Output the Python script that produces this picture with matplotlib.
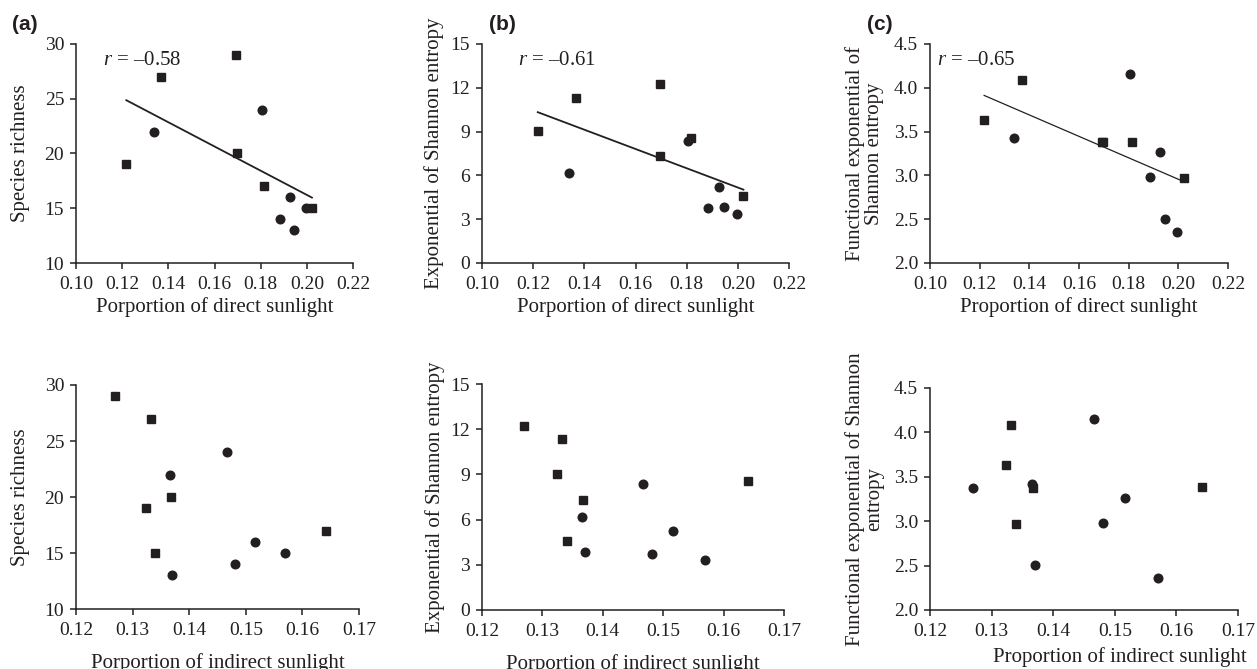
import matplotlib
matplotlib.use("Agg")
import matplotlib.pyplot as plt
import numpy as np

# twelve sites, first six plotted as squares, last six as circles
direct = [0.1694, 0.1369, 0.1218, 0.1697, 0.1815, 0.2022,
          0.1339, 0.1804, 0.1928, 0.1884, 0.1945, 0.1995]
indirect = [0.1269, 0.1332, 0.1324, 0.1367, 0.1641, 0.1340,
            0.1366, 0.1466, 0.1516, 0.1481, 0.1370, 0.1570]
richness = [29, 27, 19, 20, 17, 15, 22, 24, 16, 14, 13, 15]
exp_shannon = [12.24, 11.33, 9.01, 7.31, 8.54, 4.60,
               6.19, 8.37, 5.22, 3.74, 3.86, 3.34]
func_shannon = [3.376, 4.085, 3.628, 3.376, 3.385, 2.968,
                3.423, 4.156, 3.263, 2.977, 2.505, 2.357]
group = ['sq'] * 6 + ['ci'] * 6
# in the lower right panel the first site is drawn as a circle
group_func_indirect = ['ci'] + ['sq'] * 5 + ['ci'] * 6

r_values = ['–0.58', '–0.61', '–0.65']
panel_tags = ['(a)', '(b)', '(c)']

plt.rcParams['font.family'] = 'Liberation Serif'
plt.rcParams['mathtext.fontset'] = 'custom'
plt.rcParams['mathtext.rm'] = 'Liberation Serif'
plt.rcParams['mathtext.it'] = 'Liberation Serif:italic'

INK = '#231f20'
W, H = 1257, 669
fig = plt.figure(figsize=(W / 100, H / 100), dpi=100)


def px_axes(l, t, r, b):
    return fig.add_axes([l / W, 1 - b / H, (r - l) / W, (b - t) / H])


def style(ax, xticks, yticks, xfmt, yfmt):
    for s in ['top', 'right']:
        ax.spines[s].set_visible(False)
    for s in ['left', 'bottom']:
        ax.spines[s].set_linewidth(1.1)
        ax.spines[s].set_color(INK)
    ax.set_xlim(xticks[0], xticks[-1])
    ax.set_ylim(yticks[0], yticks[-1])
    ax.set_xticks(xticks)
    ax.set_yticks(yticks)
    ax.set_xticklabels([xfmt % v for v in xticks])
    ax.set_yticklabels([yfmt % v for v in yticks])
    ax.tick_params(direction='out', length=4.5, width=1.1, color=INK,
                   labelsize=14, labelcolor=INK)
    ax.tick_params(axis='x', pad=5)
    ax.tick_params(axis='y', pad=4)


def scatter(ax, x, y, grp):
    for xi, yi, g in zip(x, y, grp):
        if g == 'sq':
            ax.plot(xi, yi, 's', ms=6.4, color=INK, clip_on=False)
        else:
            ax.plot(xi, yi, 'o', ms=6.2, color=INK, clip_on=False)


def place_ylabel(ax, xfrac):
    ax.yaxis.set_label_coords(xfrac, 0.5)
    ax.yaxis.label.set_va('center')


xt_top = np.round(np.arange(0.10, 0.2201, 0.02), 2)
xt_bot = np.round(np.arange(0.12, 0.1701, 0.01), 2)
yt = [np.arange(10, 31, 5), np.arange(0, 16, 3), np.round(np.arange(2.0, 4.51, 0.5), 1)]
yfmts = ['%d', '%d', '%.1f']
ys = [richness, exp_shannon, func_shannon]
ylabels_top = ['Species richness', 'Exponential of Shannon entropy',
               'Functional exponential of\nShannon entropy']
ylabels_bot = ['Species richness', 'Exponential of Shannon entropy',
               'Functional exponential of Shannon\nentropy']
xlabels_top = ['Porportion of direct sunlight', 'Porportion of direct sunlight',
               'Proportion of direct sunlight']
xlabels_bot = ['Porportion of indirect sunlight', 'Porportion of indirect sunlight',
               'Proportion of indirect sunlight']

top_boxes = [(76, 44, 353, 263), (482, 44, 789, 263), (930, 44, 1228, 263)]
bot_boxes = [(76, 385, 359, 609), (482, 384, 784, 610), (930, 388, 1238, 610)]
ylab_top = [-0.2, -0.155, -0.218]
ylab_bot = [-0.195, -0.157, -0.212]
r_pos = [0.097, 0.118, 0.024]
line_w = [1.3, 1.3, 0.9]
tag_x = [12, 489, 867]

for i in range(3):
    ax = px_axes(*top_boxes[i])
    style(ax, xt_top, yt[i], '%.2f', yfmts[i])
    scatter(ax, direct, ys[i], group)
    k, c = np.polyfit(direct, ys[i], 1)
    xx = np.array([min(direct), max(direct)])
    ax.plot(xx, k * xx + c, color=INK, lw=line_w[i])
    ax.text(r_pos[i], 0.925, '$r$ = ' + r_values[i], transform=ax.transAxes,
            fontsize=15, color=INK, va='center', ha='left')
    ax.set_xlabel(xlabels_top[i], fontsize=15, color=INK, labelpad=3)
    ax.set_ylabel(ylabels_top[i], fontsize=15, color=INK, linespacing=1.0)
    place_ylabel(ax, ylab_top[i])
    fig.text(tag_x[i] / W, 1 - 25 / H, panel_tags[i], family='Liberation Sans',
             fontweight='bold', fontsize=15, va='center', ha='left', color=INK)

    ax = px_axes(*bot_boxes[i])
    style(ax, xt_bot, yt[i], '%.2f', yfmts[i])
    scatter(ax, indirect, ys[i], group_func_indirect if i == 2 else group)
    ax.set_xlabel(xlabels_bot[i], fontsize=15, color=INK, labelpad=10)
    ax.set_ylabel(ylabels_bot[i], fontsize=15, color=INK, linespacing=1.0)
    place_ylabel(ax, ylab_bot[i])
    if i == 2:
        ax.xaxis.set_label_coords(1.03, -0.165)
        ax.xaxis.label.set_ha('right')

fig.savefig('out.png', dpi=100, facecolor='white')
